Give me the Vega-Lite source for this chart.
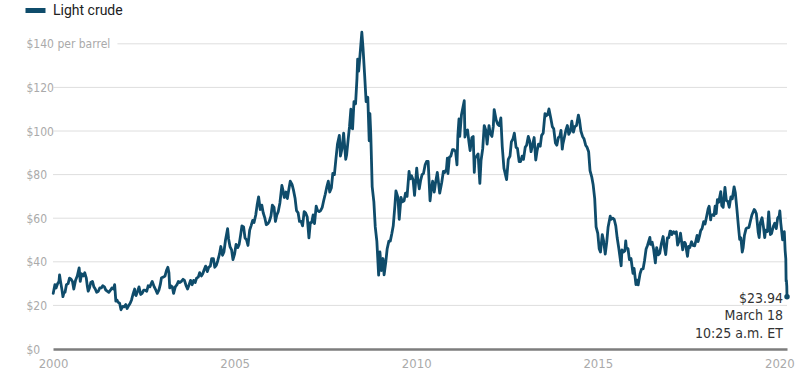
{
  "$schema": "https://vega.github.io/schema/vega-lite/v6.json",
  "width": 734,
  "height": 327,
  "autosize": {"type": "none"},
  "padding": {"left": 53, "right": 25, "top": 22, "bottom": 28},
  "background": "#ffffff",
  "config": {
    "view": {"stroke": null},
    "font": "DejaVu Sans Condensed, Roboto"
  },
  "datasets": {
    "grid": [
      {"d": "2000-01-01", "d2": "2020-03-18", "p": 20},
      {"d": "2000-01-01", "d2": "2020-03-18", "p": 40},
      {"d": "2000-01-01", "d2": "2020-03-18", "p": 60},
      {"d": "2000-01-01", "d2": "2020-03-18", "p": 80},
      {"d": "2000-01-01", "d2": "2020-03-18", "p": 100},
      {"d": "2000-01-01", "d2": "2020-03-18", "p": 120},
      {"d": "2001-10-10", "d2": "2020-03-18", "p": 140}
    ],
    "last": [
      {"d": "2020-03-18", "p": 23.94, "label": "$23.94\nMarch 18\n10:25 a.m. ET"}
    ],
    "crude": [
      {"d":"2000-01-03","p":25.5},{"d":"2000-01-20","p":29.5},{"d":"2000-02-01","p":28.0},{"d":"2000-02-15","p":29.8},{"d":"2000-03-01","p":31.0},{"d":"2000-03-07","p":34.0},{"d":"2000-03-15","p":31.5},{"d":"2000-04-01","p":26.9},{"d":"2000-04-10","p":24.0},{"d":"2000-04-20","p":25.8},{"d":"2000-05-01","p":26.0},{"d":"2000-05-15","p":29.5},{"d":"2000-06-01","p":30.0},{"d":"2000-06-15","p":32.5},{"d":"2000-07-01","p":32.0},{"d":"2000-07-15","p":31.0},{"d":"2000-07-28","p":27.5},{"d":"2000-08-15","p":31.5},{"d":"2000-09-01","p":33.5},{"d":"2000-09-20","p":37.2},{"d":"2000-10-01","p":31.0},{"d":"2000-10-15","p":34.5},{"d":"2000-11-01","p":33.5},{"d":"2000-11-15","p":35.0},{"d":"2000-12-01","p":32.5},{"d":"2000-12-12","p":28.5},{"d":"2000-12-20","p":26.5},
      {"d":"2001-01-02","p":28.0},{"d":"2001-01-15","p":30.5},{"d":"2001-02-01","p":31.0},{"d":"2001-02-15","p":28.5},{"d":"2001-03-01","p":27.5},{"d":"2001-03-15","p":26.0},{"d":"2001-04-01","p":26.5},{"d":"2001-04-15","p":28.0},{"d":"2001-05-01","p":28.0},{"d":"2001-05-15","p":29.0},{"d":"2001-06-01","p":28.5},{"d":"2001-06-15","p":27.0},{"d":"2001-07-01","p":26.5},{"d":"2001-07-15","p":26.0},{"d":"2001-08-01","p":27.0},{"d":"2001-08-15","p":28.0},{"d":"2001-09-01","p":27.5},{"d":"2001-09-12","p":29.5},{"d":"2001-09-24","p":22.0},{"d":"2001-10-05","p":22.5},{"d":"2001-10-15","p":21.5},{"d":"2001-11-01","p":21.0},{"d":"2001-11-15","p":18.0},{"d":"2001-12-01","p":19.5},{"d":"2001-12-15","p":19.3},
      {"d":"2002-01-02","p":20.4},{"d":"2002-01-15","p":18.6},{"d":"2002-02-01","p":20.0},{"d":"2002-02-15","p":21.0},{"d":"2002-03-01","p":22.5},{"d":"2002-03-15","p":25.0},{"d":"2002-04-01","p":27.5},{"d":"2002-04-08","p":25.0},{"d":"2002-04-15","p":24.5},{"d":"2002-05-01","p":26.5},{"d":"2002-05-15","p":28.5},{"d":"2002-06-01","p":25.0},{"d":"2002-06-15","p":25.5},{"d":"2002-07-01","p":27.0},{"d":"2002-07-15","p":27.0},{"d":"2002-08-01","p":26.5},{"d":"2002-08-15","p":29.0},{"d":"2002-09-01","p":28.5},{"d":"2002-09-15","p":30.0},{"d":"2002-09-25","p":31.0},{"d":"2002-10-15","p":28.5},{"d":"2002-11-01","p":27.0},{"d":"2002-11-15","p":25.5},{"d":"2002-12-01","p":27.0},{"d":"2002-12-15","p":29.5},{"d":"2002-12-27","p":32.7},
      {"d":"2003-01-15","p":33.0},{"d":"2003-02-01","p":33.5},{"d":"2003-02-15","p":36.0},{"d":"2003-03-01","p":37.5},{"d":"2003-03-12","p":35.0},{"d":"2003-03-20","p":28.0},{"d":"2003-04-01","p":29.0},{"d":"2003-04-15","p":28.5},{"d":"2003-04-28","p":25.5},{"d":"2003-05-15","p":28.5},{"d":"2003-06-01","p":29.5},{"d":"2003-06-15","p":31.0},{"d":"2003-07-01","p":30.5},{"d":"2003-07-15","p":31.0},{"d":"2003-08-01","p":32.0},{"d":"2003-08-15","p":31.5},{"d":"2003-09-01","p":29.0},{"d":"2003-09-15","p":27.5},{"d":"2003-10-01","p":29.5},{"d":"2003-10-15","p":31.5},{"d":"2003-11-01","p":29.5},{"d":"2003-11-15","p":31.5},{"d":"2003-12-01","p":30.5},{"d":"2003-12-15","p":32.5},
      {"d":"2004-01-01","p":33.0},{"d":"2004-01-15","p":35.0},{"d":"2004-02-01","p":33.5},{"d":"2004-02-15","p":34.5},{"d":"2004-03-01","p":36.5},{"d":"2004-03-15","p":38.0},{"d":"2004-04-01","p":35.5},{"d":"2004-04-15","p":37.5},{"d":"2004-05-01","p":38.0},{"d":"2004-05-15","p":41.5},{"d":"2004-06-01","p":41.5},{"d":"2004-06-15","p":37.5},{"d":"2004-07-01","p":38.5},{"d":"2004-07-15","p":40.5},{"d":"2004-08-01","p":43.5},{"d":"2004-08-15","p":47.0},{"d":"2004-09-01","p":43.0},{"d":"2004-09-15","p":44.5},{"d":"2004-10-01","p":50.0},{"d":"2004-10-22","p":55.2},{"d":"2004-11-01","p":50.5},{"d":"2004-11-15","p":47.0},{"d":"2004-12-01","p":45.5},{"d":"2004-12-15","p":41.0},{"d":"2004-12-31","p":43.5},
      {"d":"2005-01-15","p":48.0},{"d":"2005-02-01","p":46.5},{"d":"2005-02-15","p":48.0},{"d":"2005-03-01","p":52.0},{"d":"2005-03-15","p":56.5},{"d":"2005-04-01","p":56.0},{"d":"2005-04-15","p":51.0},{"d":"2005-05-01","p":50.0},{"d":"2005-05-15","p":47.5},{"d":"2005-06-01","p":54.5},{"d":"2005-06-15","p":56.5},{"d":"2005-07-01","p":59.0},{"d":"2005-07-15","p":58.0},{"d":"2005-08-01","p":61.5},{"d":"2005-08-15","p":66.0},{"d":"2005-08-30","p":69.8},{"d":"2005-09-15","p":64.0},{"d":"2005-10-01","p":66.0},{"d":"2005-10-15","p":62.5},{"d":"2005-11-01","p":60.0},{"d":"2005-11-15","p":57.0},{"d":"2005-12-01","p":57.5},{"d":"2005-12-15","p":58.5},
      {"d":"2006-01-01","p":61.0},{"d":"2006-01-15","p":66.0},{"d":"2006-02-01","p":65.0},{"d":"2006-02-15","p":58.5},{"d":"2006-03-01","p":61.5},{"d":"2006-03-15","p":63.0},{"d":"2006-04-01","p":67.0},{"d":"2006-04-21","p":75.0},{"d":"2006-05-01","p":73.0},{"d":"2006-05-15","p":69.5},{"d":"2006-06-01","p":72.0},{"d":"2006-06-15","p":69.0},{"d":"2006-07-01","p":73.5},{"d":"2006-07-14","p":77.0},{"d":"2006-08-01","p":75.5},{"d":"2006-08-15","p":73.0},{"d":"2006-09-01","p":69.0},{"d":"2006-09-15","p":63.5},{"d":"2006-10-01","p":62.5},{"d":"2006-10-15","p":58.5},{"d":"2006-11-01","p":58.5},{"d":"2006-11-15","p":56.5},{"d":"2006-12-01","p":63.0},{"d":"2006-12-15","p":62.5},
      {"d":"2007-01-01","p":60.5},{"d":"2007-01-18","p":51.0},{"d":"2007-02-01","p":58.0},{"d":"2007-02-15","p":58.0},{"d":"2007-03-01","p":61.5},{"d":"2007-03-15","p":57.5},{"d":"2007-04-01","p":65.5},{"d":"2007-04-15","p":63.5},{"d":"2007-05-01","p":63.0},{"d":"2007-05-15","p":63.5},{"d":"2007-06-01","p":65.0},{"d":"2007-06-15","p":68.0},{"d":"2007-07-01","p":71.0},{"d":"2007-07-15","p":74.0},{"d":"2007-08-01","p":77.0},{"d":"2007-08-15","p":72.0},{"d":"2007-09-01","p":74.0},{"d":"2007-09-15","p":80.5},{"d":"2007-10-01","p":80.0},{"d":"2007-10-15","p":86.5},{"d":"2007-11-01","p":94.0},{"d":"2007-11-20","p":98.0},{"d":"2007-12-01","p":88.5},{"d":"2007-12-15","p":91.5},
      {"d":"2008-01-02","p":99.0},{"d":"2008-01-15","p":91.5},{"d":"2008-01-23","p":87.0},{"d":"2008-02-01","p":89.0},{"d":"2008-02-15","p":95.5},{"d":"2008-03-01","p":102.0},{"d":"2008-03-15","p":110.0},{"d":"2008-03-20","p":101.5},{"d":"2008-04-01","p":101.0},{"d":"2008-04-15","p":113.5},{"d":"2008-05-01","p":112.5},{"d":"2008-05-15","p":124.0},{"d":"2008-05-22","p":133.0},{"d":"2008-06-01","p":127.5},{"d":"2008-06-15","p":135.0},{"d":"2008-07-03","p":145.3},{"d":"2008-07-15","p":138.0},{"d":"2008-08-01","p":125.0},{"d":"2008-08-15","p":113.5},{"d":"2008-09-01","p":115.5},{"d":"2008-09-15","p":95.5},{"d":"2008-09-22","p":108.0},{"d":"2008-10-01","p":98.5},{"d":"2008-10-15","p":74.5},{"d":"2008-11-01","p":67.5},{"d":"2008-11-15","p":56.0},{"d":"2008-12-01","p":49.5},{"d":"2008-12-19","p":33.9},
      {"d":"2009-01-01","p":44.5},{"d":"2009-01-15","p":36.0},{"d":"2009-02-01","p":41.5},{"d":"2009-02-12","p":34.0},{"d":"2009-03-01","p":40.0},{"d":"2009-03-15","p":46.0},{"d":"2009-04-01","p":49.5},{"d":"2009-04-15","p":49.5},{"d":"2009-05-01","p":53.0},{"d":"2009-05-15","p":56.5},{"d":"2009-06-01","p":66.0},{"d":"2009-06-11","p":72.5},{"d":"2009-07-01","p":69.5},{"d":"2009-07-14","p":59.5},{"d":"2009-08-01","p":69.5},{"d":"2009-08-15","p":67.5},{"d":"2009-09-01","p":68.0},{"d":"2009-09-15","p":71.5},{"d":"2009-10-01","p":70.0},{"d":"2009-10-21","p":81.5},{"d":"2009-11-01","p":78.0},{"d":"2009-11-15","p":79.5},{"d":"2009-12-01","p":77.5},{"d":"2009-12-15","p":70.5},
      {"d":"2010-01-06","p":83.0},{"d":"2010-01-15","p":78.5},{"d":"2010-02-01","p":73.5},{"d":"2010-02-15","p":77.5},{"d":"2010-03-01","p":80.0},{"d":"2010-03-15","p":80.5},{"d":"2010-04-01","p":84.5},{"d":"2010-04-15","p":86.0},{"d":"2010-05-01","p":86.0},{"d":"2010-05-20","p":68.0},{"d":"2010-06-01","p":73.0},{"d":"2010-06-15","p":77.0},{"d":"2010-07-01","p":72.0},{"d":"2010-07-15","p":76.5},{"d":"2010-08-01","p":81.0},{"d":"2010-08-15","p":75.5},{"d":"2010-08-25","p":71.5},{"d":"2010-09-15","p":76.5},{"d":"2010-10-01","p":81.5},{"d":"2010-10-15","p":81.0},{"d":"2010-11-01","p":82.5},{"d":"2010-11-10","p":87.5},{"d":"2010-11-16","p":80.5},{"d":"2010-12-01","p":88.0},{"d":"2010-12-15","p":88.5},
      {"d":"2011-01-01","p":91.5},{"d":"2011-01-15","p":91.5},{"d":"2011-02-01","p":90.5},{"d":"2011-02-15","p":84.5},{"d":"2011-02-24","p":98.0},{"d":"2011-03-07","p":105.5},{"d":"2011-03-15","p":97.5},{"d":"2011-04-01","p":107.5},{"d":"2011-04-29","p":113.9},{"d":"2011-05-06","p":97.2},{"d":"2011-05-15","p":99.5},{"d":"2011-06-01","p":100.5},{"d":"2011-06-15","p":95.0},{"d":"2011-06-27","p":91.0},{"d":"2011-07-15","p":97.0},{"d":"2011-07-28","p":97.5},{"d":"2011-08-08","p":81.0},{"d":"2011-08-15","p":87.5},{"d":"2011-09-01","p":88.5},{"d":"2011-09-15","p":89.5},{"d":"2011-10-03","p":76.0},{"d":"2011-10-15","p":86.5},{"d":"2011-11-01","p":92.0},{"d":"2011-11-16","p":102.5},{"d":"2011-12-01","p":100.5},{"d":"2011-12-15","p":94.0},
      {"d":"2012-01-03","p":102.5},{"d":"2012-01-15","p":99.0},{"d":"2012-02-01","p":97.5},{"d":"2012-02-15","p":102.0},{"d":"2012-02-24","p":109.8},{"d":"2012-03-15","p":105.0},{"d":"2012-04-01","p":103.0},{"d":"2012-04-15","p":102.5},{"d":"2012-05-01","p":106.0},{"d":"2012-05-15","p":93.0},{"d":"2012-06-01","p":83.0},{"d":"2012-06-28","p":77.7},{"d":"2012-07-15","p":87.0},{"d":"2012-08-01","p":88.5},{"d":"2012-08-15","p":95.0},{"d":"2012-09-01","p":96.5},{"d":"2012-09-14","p":99.0},{"d":"2012-10-01","p":92.5},{"d":"2012-10-15","p":92.0},{"d":"2012-11-01","p":86.0},{"d":"2012-11-15","p":86.0},{"d":"2012-12-01","p":88.5},{"d":"2012-12-15","p":87.0},
      {"d":"2013-01-01","p":92.5},{"d":"2013-01-15","p":93.5},{"d":"2013-02-01","p":97.5},{"d":"2013-02-15","p":95.5},{"d":"2013-03-01","p":90.5},{"d":"2013-03-15","p":93.5},{"d":"2013-04-01","p":97.0},{"d":"2013-04-17","p":86.7},{"d":"2013-05-01","p":91.0},{"d":"2013-05-15","p":94.0},{"d":"2013-06-01","p":93.0},{"d":"2013-06-15","p":98.0},{"d":"2013-07-01","p":99.0},{"d":"2013-07-19","p":108.0},{"d":"2013-08-01","p":107.0},{"d":"2013-08-15","p":107.5},{"d":"2013-08-28","p":110.1},{"d":"2013-09-15","p":106.0},{"d":"2013-10-01","p":102.0},{"d":"2013-10-15","p":101.0},{"d":"2013-11-01","p":94.5},{"d":"2013-11-15","p":93.5},{"d":"2013-12-01","p":97.0},{"d":"2013-12-15","p":97.5},{"d":"2013-12-27","p":100.3},
      {"d":"2014-01-09","p":91.7},{"d":"2014-01-15","p":94.0},{"d":"2014-02-01","p":97.5},{"d":"2014-02-15","p":100.5},{"d":"2014-03-01","p":102.5},{"d":"2014-03-15","p":98.5},{"d":"2014-04-01","p":100.0},{"d":"2014-04-15","p":104.5},{"d":"2014-05-01","p":99.5},{"d":"2014-05-15","p":102.0},{"d":"2014-06-01","p":102.5},{"d":"2014-06-20","p":107.3},{"d":"2014-07-01","p":105.0},{"d":"2014-07-15","p":100.0},{"d":"2014-08-01","p":97.5},{"d":"2014-08-15","p":96.5},{"d":"2014-09-01","p":93.5},{"d":"2014-09-15","p":92.5},{"d":"2014-10-01","p":90.5},{"d":"2014-10-15","p":81.8},{"d":"2014-11-01","p":79.0},{"d":"2014-11-15","p":75.5},{"d":"2014-12-01","p":69.0},{"d":"2014-12-15","p":56.0},
      {"d":"2015-01-01","p":53.0},{"d":"2015-01-15","p":46.0},{"d":"2015-01-28","p":44.5},{"d":"2015-02-15","p":52.5},{"d":"2015-03-01","p":49.5},{"d":"2015-03-17","p":43.5},{"d":"2015-04-01","p":49.0},{"d":"2015-04-15","p":56.0},{"d":"2015-05-06","p":60.9},{"d":"2015-05-15","p":59.5},{"d":"2015-06-01","p":60.0},{"d":"2015-06-15","p":59.5},{"d":"2015-07-01","p":56.5},{"d":"2015-07-15","p":51.0},{"d":"2015-08-01","p":46.0},{"d":"2015-08-24","p":38.2},{"d":"2015-09-01","p":45.5},{"d":"2015-09-15","p":44.5},{"d":"2015-10-01","p":45.0},{"d":"2015-10-09","p":49.6},{"d":"2015-10-15","p":46.5},{"d":"2015-11-01","p":46.0},{"d":"2015-11-15","p":41.0},{"d":"2015-12-01","p":41.5},{"d":"2015-12-21","p":34.7},
      {"d":"2016-01-01","p":37.0},{"d":"2016-01-20","p":29.5},{"d":"2016-02-01","p":31.6},{"d":"2016-02-11","p":29.4},{"d":"2016-03-01","p":34.5},{"d":"2016-03-15","p":36.5},{"d":"2016-04-01","p":36.8},{"d":"2016-04-15","p":40.5},{"d":"2016-05-01","p":45.9},{"d":"2016-05-15","p":47.5},{"d":"2016-06-08","p":51.2},{"d":"2016-06-15","p":48.0},{"d":"2016-07-01","p":49.0},{"d":"2016-07-15","p":45.9},{"d":"2016-08-02","p":39.5},{"d":"2016-08-15","p":46.5},{"d":"2016-09-01","p":43.2},{"d":"2016-09-15","p":43.9},{"d":"2016-10-01","p":48.2},{"d":"2016-10-19","p":51.6},{"d":"2016-11-01","p":46.7},{"d":"2016-11-14","p":43.3},{"d":"2016-12-01","p":51.0},{"d":"2016-12-15","p":51.0},{"d":"2016-12-28","p":54.1},
      {"d":"2017-01-06","p":54.0},{"d":"2017-01-15","p":52.5},{"d":"2017-02-01","p":53.8},{"d":"2017-02-15","p":53.1},{"d":"2017-03-01","p":53.8},{"d":"2017-03-14","p":47.7},{"d":"2017-04-03","p":50.2},{"d":"2017-04-12","p":53.1},{"d":"2017-05-04","p":45.5},{"d":"2017-05-15","p":48.8},{"d":"2017-05-25","p":48.9},{"d":"2017-06-01","p":48.3},{"d":"2017-06-21","p":42.5},{"d":"2017-07-03","p":47.1},{"d":"2017-07-14","p":46.5},{"d":"2017-08-01","p":49.2},{"d":"2017-08-15","p":47.5},{"d":"2017-09-01","p":47.3},{"d":"2017-09-15","p":49.9},{"d":"2017-09-26","p":52.1},{"d":"2017-10-06","p":49.3},{"d":"2017-10-20","p":51.8},{"d":"2017-11-01","p":54.3},{"d":"2017-11-15","p":55.3},{"d":"2017-12-01","p":58.4},{"d":"2017-12-15","p":57.3},{"d":"2017-12-29","p":60.4},
      {"d":"2018-01-15","p":64.3},{"d":"2018-01-25","p":65.5},{"d":"2018-02-09","p":59.2},{"d":"2018-02-15","p":61.3},{"d":"2018-03-01","p":61.6},{"d":"2018-03-15","p":61.2},{"d":"2018-03-26","p":65.5},{"d":"2018-04-06","p":62.1},{"d":"2018-04-18","p":68.5},{"d":"2018-05-01","p":67.3},{"d":"2018-05-22","p":72.2},{"d":"2018-06-01","p":65.8},{"d":"2018-06-15","p":65.0},{"d":"2018-07-03","p":74.1},{"d":"2018-07-17","p":68.1},{"d":"2018-08-01","p":67.7},{"d":"2018-08-15","p":65.0},{"d":"2018-09-01","p":69.8},{"d":"2018-09-15","p":68.9},{"d":"2018-10-03","p":74.4},{"d":"2018-10-15","p":71.8},{"d":"2018-11-01","p":63.7},{"d":"2018-11-15","p":56.5},{"d":"2018-11-28","p":50.3},{"d":"2018-12-10","p":51.0},{"d":"2018-12-24","p":44.5},
      {"d":"2019-01-02","p":46.5},{"d":"2019-01-15","p":52.1},{"d":"2019-02-01","p":55.3},{"d":"2019-02-15","p":55.6},{"d":"2019-03-01","p":55.8},{"d":"2019-03-15","p":58.5},{"d":"2019-04-01","p":61.6},{"d":"2019-04-23","p":64.0},{"d":"2019-05-01","p":63.6},{"d":"2019-05-15","p":62.0},{"d":"2019-06-03","p":53.3},{"d":"2019-06-12","p":51.1},{"d":"2019-06-24","p":57.9},{"d":"2019-07-11","p":60.2},{"d":"2019-07-25","p":56.0},{"d":"2019-08-07","p":51.1},{"d":"2019-08-15","p":54.5},{"d":"2019-09-03","p":53.9},{"d":"2019-09-16","p":62.9},{"d":"2019-10-03","p":52.5},{"d":"2019-10-15","p":53.0},{"d":"2019-11-01","p":56.2},{"d":"2019-11-15","p":57.7},{"d":"2019-12-01","p":55.2},{"d":"2019-12-15","p":60.1},{"d":"2019-12-31","p":61.1},
      {"d":"2020-01-06","p":63.3},{"d":"2020-01-15","p":58.0},{"d":"2020-02-03","p":50.1},{"d":"2020-02-20","p":53.8},{"d":"2020-02-28","p":45.3},{"d":"2020-03-06","p":41.3},{"d":"2020-03-09","p":31.1},{"d":"2020-03-12","p":31.5},{"d":"2020-03-16","p":28.7},{"d":"2020-03-18","p":23.94}
    ]
  },
  "encoding": {
    "x": {
      "field": "d",
      "type": "temporal",
      "scale": {"domain": [{"year": 2000, "month": 1, "date": 1}, {"year": 2020, "month": 3, "date": 18}]},
      "axis": {
        "title": null,
        "values": [{"year": 2000}, {"year": 2005}, {"year": 2010}, {"year": 2015}, {"year": 2020}],
        "format": "%Y",
        "grid": false,
        "ticks": false,
        "tickSize": 0,
        "labelFlush": false,
        "labelPadding": 8,
        "labelFontSize": 13,
        "labelColor": "#aaaaaa",
        "labelFont": "DejaVu Sans Condensed, Roboto",
        "domainColor": "#7d7d7d",
        "domainWidth": 2.5
      }
    },
    "y": {
      "field": "p",
      "type": "quantitative",
      "scale": {"domain": [0, 150], "nice": false},
      "axis": {
        "title": null,
        "values": [0, 20, 40, 60, 80, 100, 120, 140],
        "labelExpr": "datum.value == 140 ? '$140 per barrel' : '$' + datum.value",
        "grid": false,
        "domain": false,
        "ticks": false,
        "tickSize": 0,
        "labelAlign": "left",
        "labelBaseline": "middle",
        "labelPadding": 27,
        "labelFontSize": 12,
        "labelColor": "#aaaaaa",
        "labelFont": "DejaVu Sans Condensed, Roboto"
      }
    }
  },
  "layer": [
    {
      "data": {"name": "grid"},
      "mark": {"type": "rule", "color": "#dedede", "strokeWidth": 1},
      "encoding": {"x2": {"field": "d2"}}
    },
    {
      "data": {"name": "crude"},
      "mark": {"type": "line", "strokeWidth": 2.8, "strokeJoin": "round", "strokeCap": "round"},
      "encoding": {
        "color": {
          "datum": "Light crude",
          "scale": {"range": ["#0f4c6b"]},
          "legend": {
            "title": null,
            "orient": "none",
            "legendX": -30,
            "legendY": -24,
            "symbolType": "stroke",
            "symbolSize": 400,
            "symbolStrokeWidth": 5,
            "labelFontSize": 14,
            "labelColor": "#222222",
            "labelFont": "Roboto",
            "labelOffset": 5,
            "padding": 0
          }
        }
      }
    },
    {
      "data": {"name": "last"},
      "mark": {"type": "point", "filled": true, "size": 30, "color": "#0f4c6b", "opacity": 1}
    },
    {
      "data": {"name": "last"},
      "mark": {"type": "text", "align": "right", "baseline": "top", "dx": -4, "dy": -5, "lineBreak": "\n", "lineHeight": 17.5, "fontSize": 14, "color": "#333333", "font": "DejaVu Sans Condensed, Roboto"},
      "encoding": {"text": {"field": "label"}}
    }
  ]
}
